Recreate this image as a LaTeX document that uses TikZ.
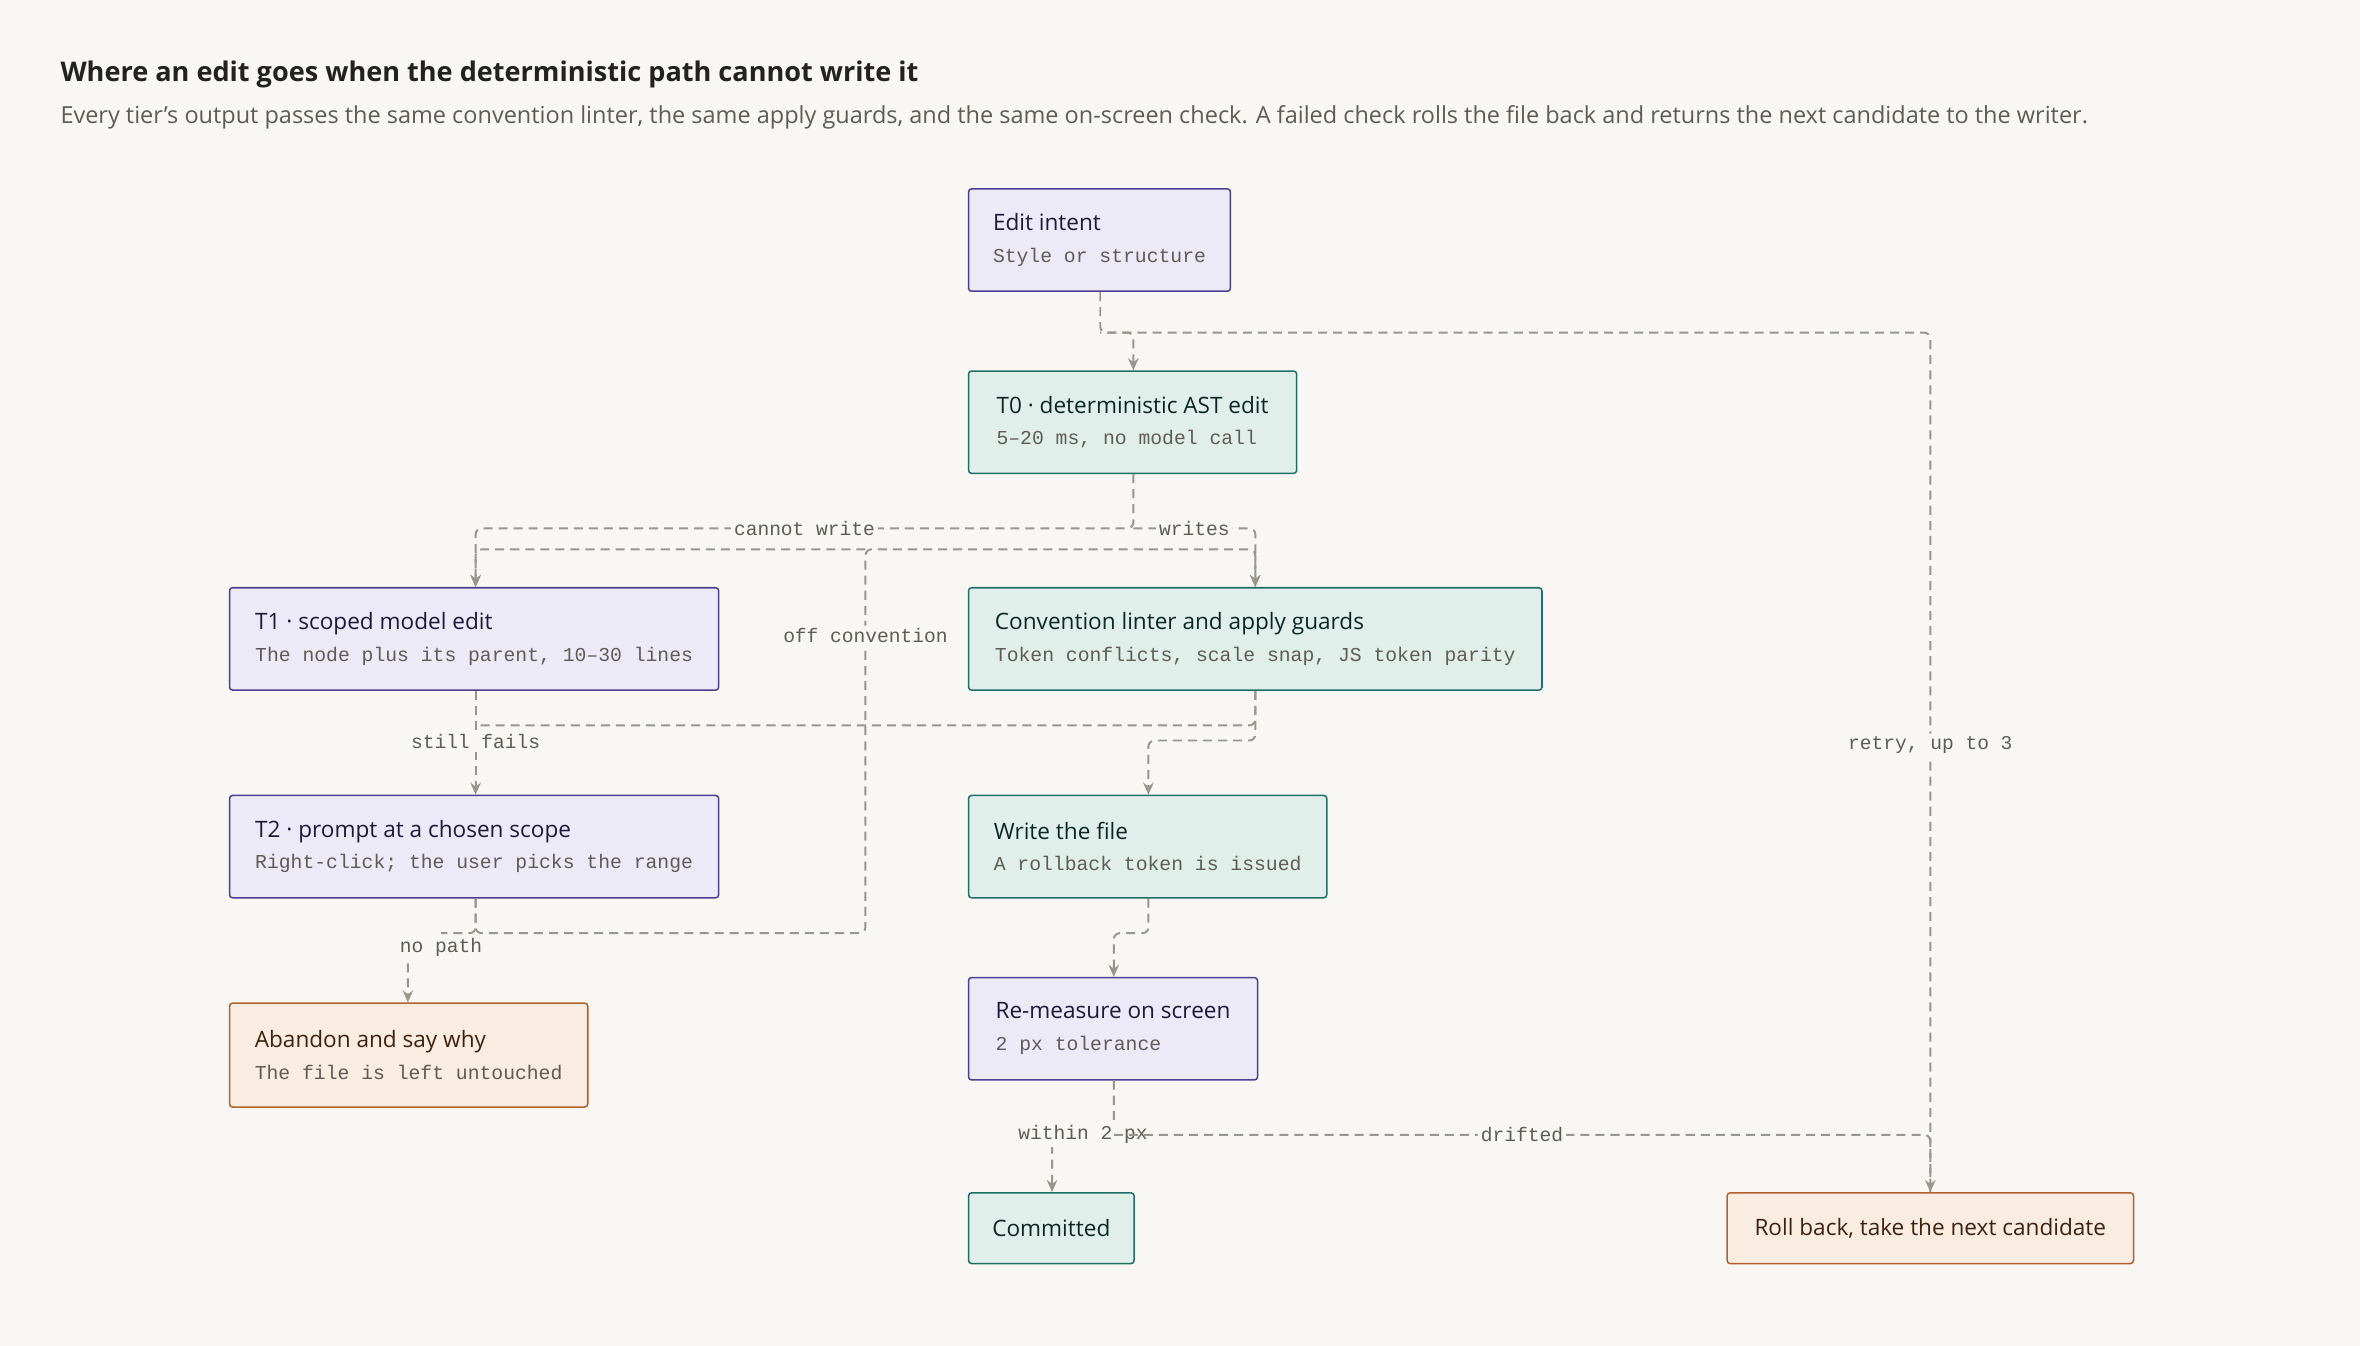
\documentclass[tikz,border=0pt]{standalone}
\usepackage{fontspec}
\setmainfont{Open Sans}
\setmonofont{Liberation Mono}
\usetikzlibrary{arrows.meta}
\definecolor{bg}{HTML}{F8F7F4}
\definecolor{purfill}{HTML}{EDEAF7}
\definecolor{purline}{HTML}{4B3F8F}
\definecolor{tealfill}{HTML}{E1EFEB}
\definecolor{tealline}{HTML}{1F6F66}
\definecolor{orfill}{HTML}{F9ECE0}
\definecolor{orline}{HTML}{B0622E}
\definecolor{edge}{HTML}{9A968E}
\definecolor{ink}{HTML}{222222}
\definecolor{sub}{HTML}{5F5B55}
\tikzset{
  box/.style={draw, rounded corners=2pt, line width=1pt, anchor=north west,
    inner xsep=15pt, inner ysep=0pt, align=left, font=\fontsize{15}{24}\selectfont},
  pur/.style={box, fill=purfill, draw=purline, text=purline!40!black},
  teal/.style={box, fill=tealfill, draw=tealline, text=tealline!35!black},
  ora/.style={box, fill=orfill, draw=orline, text=orline!35!black},
  flow/.style={draw=edge, line width=1.3pt, dash pattern=on 6pt off 4pt, rounded corners=4pt},
  arr/.style={flow, -{Stealth[length=8pt,width=7pt]}},
  lbl/.style={fill=bg, text=sub, inner sep=2pt, font=\ttfamily\fontsize{13}{13}\selectfont}
}
\newcommand{\sm}[1]{\\[-3pt]{\ttfamily\fontsize{13.1}{16}\selectfont\color{sub}#1}}
\begin{document}
\begin{tikzpicture}[x=1pt,y=-1pt]
\fill[bg] (0,0) rectangle (1568,894);
\useasboundingbox (0,0) rectangle (1568,894);
\node[anchor=base west, font=\bfseries\fontsize{18}{18}\selectfont, text=ink, inner sep=0] (title) at (40,54) {Where an edit goes when the deterministic path cannot write it};
\node[anchor=base west, font=\fontsize{15.6}{15}\selectfont, text=sub, inner sep=0] (subtitle) at (40,82) {Every tier's output passes the same convention linter, the same apply guards, and the same on-screen check. A failed check rolls the file back and returns the next candidate to the writer.};

\node[pur, minimum width=174, minimum height=68] (intent) at (643,125) {Edit intent\sm{Style or structure}};
\node[teal, minimum width=218, minimum height=68] (t0) at (643,246) {T0 · deterministic AST edit\sm{5–20 ms, no model call}};
\node[pur, minimum width=325, minimum height=68] (t1) at (152,390) {T1 · scoped model edit\sm{The node plus its parent, 10–30 lines}};
\node[teal, minimum width=381, minimum height=68] (lint) at (643,390) {Convention linter and apply guards\sm{Token conflicts, scale snap, JS token parity}};
\node[pur, minimum width=325, minimum height=68] (t2) at (152,528) {T2 · prompt at a chosen scope\sm{Right-click; the user picks the range}};
\node[teal, minimum width=238, minimum height=68] (write) at (643,528) {Write the file\sm{A rollback token is issued}};
\node[ora, minimum width=238, minimum height=69] (abandon) at (152,666) {Abandon and say why\sm{The file is left untouched}};
\node[pur, minimum width=192, minimum height=68] (remeasure) at (643,649) {Re-measure on screen\sm{2 px tolerance}};
\node[teal, minimum width=110, minimum height=47] (committed) at (643,792) {Committed};
\node[ora, minimum width=270, minimum height=47] (rollback) at (1147,792) {Roll back, take the next candidate};

\coordinate (split) at (731,221);
\coordinate (fork) at (753,351);
\coordinate (join) at (575,365);
\coordinate (fail) at (834,482);
\coordinate (check) at (740,754);

\draw[arr] (intent.south -| split) |- (753,221) -- (t0.north -| 753,0);
\draw[flow] (rollback.north) |- node[lbl, pos=0.26] {retry, up to 3} (split);
\draw[arr] (t0.south -| fork) |- node[lbl, pos=0.75] {cannot write} (316,351) -- (t1.north -| 316,0);
\draw[arr] (fork) -| node[lbl, pos=0.25] {writes} (lint.north -| 834,0);
\draw[arr] (t2.south -| 316,0) |- (575,620) -- (join) -| (lint.north -| 834,0);
\draw[arr] (join) node[lbl, below=50pt] {off convention} -| (t1.north -| 316,0);
\draw[arr] (t1.south -| 316,0) -- node[lbl, pos=0.49] {still fails} (t2.north -| 316,0);
\draw[flow] (lint.south -| fail) |- (316,482);
\draw[arr] (lint.south -| fail) |- (763,492) -- (write.north -| 763,0);
\draw[arr] (t2.south -| 316,0) |- (293,620) node[lbl, below=1pt] {no path} (271,640) -- (abandon.north -| 271,0);
\draw[arr] (write.south -| 763,0) |- (740,620) -- (remeasure.north -| 740,0);
\draw[arr] (remeasure.south -| check) |- node[lbl, pos=0.75] {within 2 px} (699,754) -- (committed.north -| 699,0);
\draw[arr] (check) -| node[lbl, pos=0.25] {drifted} (rollback.north);
\end{tikzpicture}
\end{document}
